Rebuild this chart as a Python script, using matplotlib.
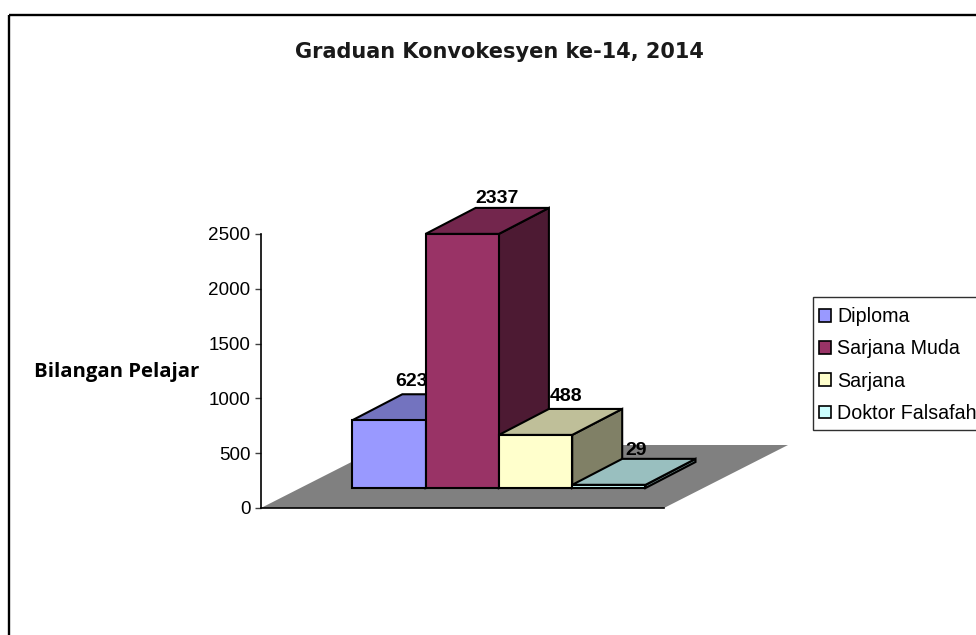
import matplotlib
matplotlib.use("Agg")
import matplotlib.pyplot as plt
from matplotlib.patches import Polygon, Rectangle, Patch

categories = ["Diploma", "Sarjana Muda", "Sarjana", "Doktor Falsafah"]
values = [623, 2337, 488, 29]
front_colors = ["#9999FF", "#993366", "#FFFFCC", "#CCFFFF"]
top_colors = ["#7373BF", "#73264D", "#BFBF99", "#99BFBF"]
side_colors = ["#4D4D80", "#4D1A33", "#808066", "#668080"]
y_ticks = [0, 500, 1000, 1500, 2000, 2500]
title_text = "Graduan Konvokesyen ke-14, 2014"
y_label = "Bilangan Pelajar"

W, H = 976, 635
AX_L, AX_R, AX_T, AX_B = 261, 664, 234, 508
plt.rcParams["font.family"] = ["Liberation Sans", "DejaVu Sans"]

fig = plt.figure(figsize=(W / 100, H / 100), dpi=100, facecolor="white")
ax = fig.add_axes([AX_L / W, 1 - AX_B / H, (AX_R - AX_L) / W, (AX_B - AX_T) / H])

px_per_value = (AX_B - AX_T) / 2500
bar_px = 73.3
first_bar_px = 352.3
x0 = -(first_bar_px - AX_L) / bar_px
x1 = (AX_R - first_bar_px) / bar_px
ax.set_xlim(x0, x1)
ax.set_ylim(0, 2500)

depth_x = 50 / bar_px
depth_y = 26 / px_per_value
base = 20 / px_per_value
floor_dx = 124 / bar_px
floor_dy = 63 / px_per_value
height_scale = 0.992

ax.add_patch(Polygon([(x0, 0), (x1, 0), (x1 + floor_dx, floor_dy), (x0 + floor_dx, floor_dy)],
                     closed=True, fc="#808080", ec="none", clip_on=False, zorder=1))

label_dx = [-0.04, 0.14, 0.08, 0.03]
label_dy = [120, 88, 112, 75]
for i, v in enumerate(values):
    h = v * height_scale
    lw = 1.5
    kw = dict(closed=True, ec="black", lw=lw, clip_on=False, zorder=2 + i, joinstyle="miter")
    ax.add_patch(Polygon([(i + 1, base), (i + 1 + depth_x, base + depth_y),
                          (i + 1 + depth_x, base + depth_y + h), (i + 1, base + h)],
                         fc=side_colors[i], **kw))
    ax.add_patch(Polygon([(i, base + h), (i + 1, base + h),
                          (i + 1 + depth_x, base + h + depth_y), (i + depth_x, base + h + depth_y)],
                         fc=top_colors[i], **kw))
    ax.add_patch(Rectangle((i, base), 1, h, fc=front_colors[i], ec="black", lw=lw,
                           clip_on=False, zorder=2 + i))
for i, v in enumerate(values):
    ax.text(i + 0.5 + depth_x * 0.5 + label_dx[i], base + v * height_scale + depth_y + label_dy[i],
            str(v), ha="center", va="center", fontsize=14, fontweight="bold",
            color="black", zorder=20)

for s in ["top", "right"]:
    ax.spines[s].set_visible(False)
ax.spines["left"].set_linewidth(1.2)
ax.spines["bottom"].set_linewidth(1.2)
ax.set_zorder(3)
ax.patch.set_alpha(0)
ax.set_xticks([])
ax.set_yticks(y_ticks)
ax.tick_params(axis="y", length=4.5, width=1.0, labelsize=13.6, pad=3, color="#404040")

fig.text(117 / W, 1 - 372 / H, y_label, ha="center", va="center", fontsize=14.6,
         fontweight="bold", family="Open Sans", color="black")
fig.text(499.5 / W, 1 - 52 / H, title_text, ha="center", va="center", fontsize=15,
         fontweight="bold", family="DejaVu Sans", color="#1a1a1a")

fig.add_artist(Rectangle((812.5 / W, 1 - 429.5 / H), 200 / W, 132.5 / H, fc="white",
                         ec="#303030", lw=1.0, transform=fig.transFigure, zorder=4))
handles = [Patch(fc=c, ec="black", lw=1.2) for c in front_colors]
fig.legend(handles, categories, loc="upper left", bbox_to_anchor=(811.5 / W, 1 - 300 / H),
           bbox_transform=fig.transFigure, borderaxespad=0, fontsize=14.1, frameon=False,
           handlelength=0.62, handleheight=0.62, handletextpad=0.33, borderpad=0.36,
           labelspacing=0.68).set_zorder(5)

fig.add_artist(Rectangle((9 / W, 1 - 14.5 / H), (W + 20) / W, -(H + 20) / H, fc="none",
                         ec="black", lw=1.7, transform=fig.transFigure, clip_on=True))
fig.savefig("out.png", dpi=100)
